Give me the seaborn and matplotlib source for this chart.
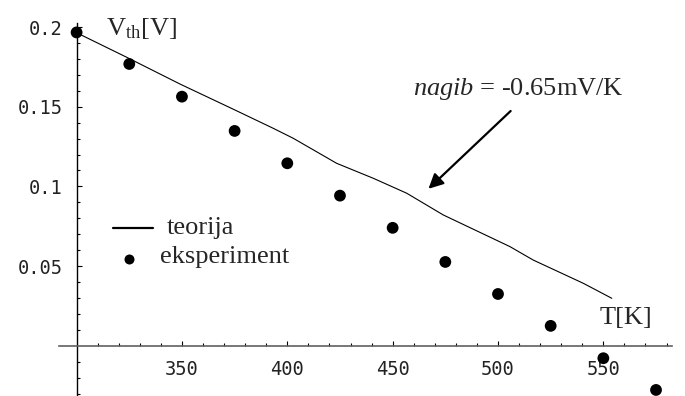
import numpy as np
import pandas as pd
import seaborn as sns
import matplotlib
matplotlib.use("Agg")
import matplotlib.pyplot as plt
from matplotlib.ticker import FixedLocator

# ---- data ----
T_exp = [300, 325, 350, 375, 400, 425, 450, 475, 500, 525, 550, 575]
V_exp = [0.1966, 0.1768, 0.1563, 0.1348, 0.1145, 0.0942, 0.0740, 0.0526,
         0.0325, 0.0125, -0.0078, -0.0277]

T_theory = [300, 323.8, 349.1, 374.4, 393.4, 402.8, 423.4, 440.8, 456.7,
            474.0, 505.7, 516.7, 540.5, 554.0]
V_theory = [0.1964, 0.1810, 0.1642, 0.1484, 0.1364, 0.1302, 0.1145, 0.1051,
            0.0957, 0.0821, 0.0622, 0.0538, 0.0392, 0.0298]

x_ticks = [350, 400, 450, 500, 550]
x_labels = ["350", "400", "450", "500", "550"]
y_ticks = [0.05, 0.1, 0.15, 0.2]
y_labels = ["0.05", "0.1", "0.15", "0.2"]

legend_labels = ["teorija", "eksperiment"]
annotation = "nagib"
annotation_rest = " = -0.65mV/K"

sns.set_theme(style="white")
plt.rcParams["font.family"] = ["Liberation Serif", "DejaVu Serif"]
plt.rcParams["mathtext.fontset"] = "custom"
plt.rcParams["mathtext.rm"] = "Liberation Serif"
plt.rcParams["mathtext.it"] = "Liberation Serif:italic"

df_exp = pd.DataFrame({"T": T_exp, "V": V_exp})
df_th = pd.DataFrame({"T": T_theory, "V": V_theory})

fig = plt.figure(figsize=(6.85, 3.96), dpi=100)
ax = fig.add_axes([0, 0, 1, 1])
ax.set_facecolor("white")

sns.lineplot(data=df_th, x="T", y="V", ax=ax, color="black", lw=0.8,
             sort=False, estimator=None, zorder=3)
sns.scatterplot(data=df_exp, x="T", y="V", ax=ax, color="black", s=72,
                edgecolor="none", zorder=4, clip_on=False)

ax.set_xlim(263.65, 588.75)
ax.set_ylim(-0.0315, 0.21694)
ax.set_xlabel("")
ax.set_ylabel("")

for s in ["top", "right"]:
    ax.spines[s].set_visible(False)
ax.spines["left"].set_position(("data", 300))
ax.spines["left"].set_bounds(-0.0315, 0.2027)
ax.spines["left"].set_color("black")
ax.spines["left"].set_linewidth(1.0)
ax.spines["bottom"].set_position(("data", 0))
ax.spines["bottom"].set_bounds(291.8, 582.4)
ax.spines["bottom"].set_color("#606060")
ax.spines["bottom"].set_linewidth(1.2)

ax.set_xticks(x_ticks, x_labels, fontfamily="DejaVu Sans Mono", fontsize=13.5)
ax.set_yticks(y_ticks, y_labels, fontfamily="DejaVu Sans Mono", fontsize=13.5)
xminor = [t for t in range(310, 590, 10) if t % 50 != 0]
yminor = [round(v / 100, 2) for v in range(-3, 21) if v not in (0, 5, 10, 15, 20)]
ax.xaxis.set_minor_locator(FixedLocator(xminor))
ax.yaxis.set_minor_locator(FixedLocator(yminor))
ax.tick_params(which="both", direction="in", colors="black", labelcolor="#222222",
               width=0.8, pad=10, bottom=True, left=True)
ax.tick_params(which="major", length=3.8)
ax.tick_params(which="minor", length=1.9)

# axis labels in the plot (Mathematica style)
ax.text(313.9, 0.195, r"V$_{\mathrm{th}}$[V]", fontsize=19, va="baseline", ha="left")
ax.text(548.4, 0.0139, "T[K]", fontsize=19, va="baseline", ha="left")

# annotation with arrow
ax.text(459.7, 0.1573, r"$\mathit{" + annotation + "}$" + annotation_rest,
        fontsize=19, va="baseline", ha="left")
ax.annotate("", xy=(467.0, 0.0985), xytext=(506.0, 0.1473),
            arrowprops=dict(arrowstyle="-|>", lw=1.6, color="black",
                            mutation_scale=22, shrinkA=0, shrinkB=0))

# legend drawn manually
ax.plot([317.1, 336.4], [0.0741, 0.0741], color="black", lw=1.6)
ax.text(342.8, 0.0701, legend_labels[0], fontsize=19, va="baseline", ha="left")
ax.plot([324.9], [0.0545], "o", color="black", ms=7.2, mec="none")
ax.text(339.6, 0.0517, legend_labels[1], fontsize=19, va="baseline", ha="left")

fig.savefig("out.png", dpi=100)
